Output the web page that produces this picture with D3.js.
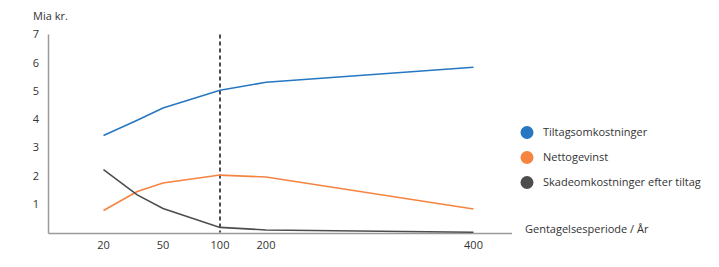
<!DOCTYPE html>
<html><head><meta charset="utf-8">
<script src="https://cdn.jsdelivr.net/npm/d3@7"></script>
<style>body{margin:0;background:#fff}svg{display:block}text{font-family:"Open Sans",sans-serif;fill:#333}</style>
</head><body><svg id="c" width="719" height="267"></svg>
<script>
const periods = [20, 37, 50, 100, 200, 400];
const tickLabels = [20, 50, 100, 200, 400];
const yTicks = [1, 2, 3, 4, 5, 6, 7];
const tiltag = [3.43, 3.97, 4.40, 5.03, 5.31, 5.84];
const netto = [0.78, 1.45, 1.75, 2.03, 1.96, 0.83];
const skade = [2.22, 1.33, 0.85, 0.18, 0.09, 0.01];
const seriesNames = ["Tiltagsomkostninger", "Nettogevinst", "Skadeomkostninger efter tiltag"];
const colors = ["#2777c2", "#f4843f", "#4d4d4d"];
const markerPeriod = 100;

const svg = d3.select("#c");
const mLeft = 48.5, mRight = 512, mTop = 34.5, mBottom = 232.5;
// piecewise scale reproducing the original's uneven spacing of return periods
const x = d3.scaleLinear()
  .domain([0, 20, 50, 100, 200, 400, 452])
  .range([mLeft, 103.5, 163, 220, 266, 473.5, mRight]);
const y = d3.scaleLinear().domain([0, 7]).range([mBottom, mTop]);

// axes
svg.append("line").attr("x1", mLeft).attr("x2", mLeft).attr("y1", mTop).attr("y2", mBottom + 1)
  .attr("stroke", "#9a9a9a").attr("stroke-width", 1.5);
svg.append("line").attr("x1", mLeft).attr("x2", mRight).attr("y1", mBottom + 1).attr("y2", mBottom + 1)
  .attr("stroke", "#9a9a9a").attr("stroke-width", 1.5);

svg.selectAll(".yt").data(yTicks).join("text")
  .attr("x", 36).attr("y", d => y(d)).attr("dy", "0.35em")
  .attr("text-anchor", "middle").attr("font-size", 11).text(d => d);
svg.selectAll(".xt").data(tickLabels).join("text")
  .attr("x", d => x(d)).attr("y", 245).attr("dy", "0.35em")
  .attr("text-anchor", "middle").attr("font-size", 11).text(d => d);

svg.append("text").attr("x", 33).attr("y", 16).attr("dy", "0.35em").attr("font-size", 11).text("Mia kr.");
svg.append("text").attr("x", 525).attr("y", 229).attr("dy", "0.35em").attr("font-size", 11).text("Gentagelsesperiode / År");

// dashed marker
svg.append("line").attr("x1", x(markerPeriod)).attr("x2", x(markerPeriod))
  .attr("y1", mTop).attr("y2", mBottom)
  .attr("stroke", "#111").attr("stroke-width", 1.5).attr("stroke-dasharray", "4,3");

const line = d3.line().x((d, i) => x(periods[i])).y(d => y(d));
[tiltag, netto, skade].forEach((s, k) => {
  svg.append("path").datum(s).attr("d", line).attr("fill", "none")
    .attr("stroke", colors[k]).attr("stroke-width", 1.6);
});

// legend
const lg = svg.append("g");
seriesNames.forEach((n, i) => {
  lg.append("circle").attr("cx", 527).attr("cy", 132.5 + i * 25).attr("r", 6.5).attr("fill", colors[i]);
  lg.append("text").attr("x", 543).attr("y", 132.5 + i * 25).attr("dy", "0.35em").attr("font-size", 11).text(n);
});
</script></body></html>
